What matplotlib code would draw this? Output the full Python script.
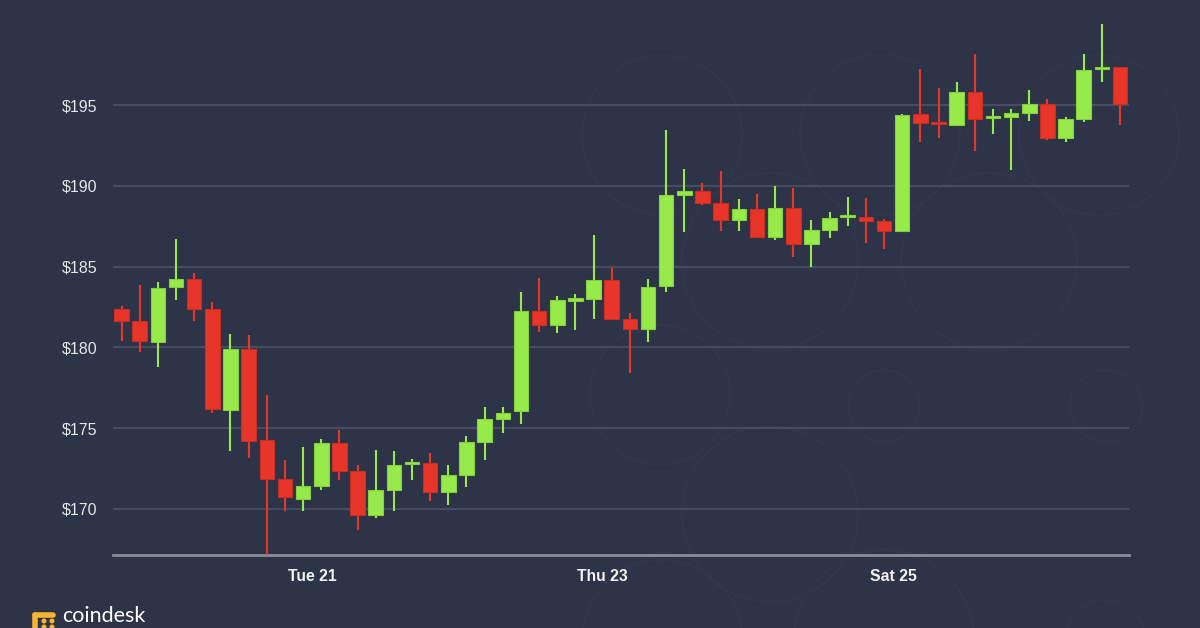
import matplotlib
matplotlib.use("Agg")
import matplotlib.pyplot as plt
from matplotlib.patches import Circle
import numpy as np

# ---------------- data (3-hour candles) ----------------
opens = [182.36, 181.63, 180.32, 183.72, 184.25, 182.36, 176.14, 179.90, 174.25, 171.86,
         170.62, 171.42, 174.10, 172.37, 169.63, 171.19, 172.76, 172.83, 171.07, 172.10,
         174.16, 175.57, 176.05, 182.25, 181.39, 182.90, 182.99, 184.15, 181.76, 181.14,
         183.80, 189.45, 189.68, 188.93, 187.86, 188.55, 186.81, 188.65, 186.38, 187.26,
         188.06, 188.07, 187.80, 187.18, 194.46, 193.86, 193.74, 195.79, 194.18, 194.26,
         194.52, 195.08, 192.94, 194.12, 197.22, 197.33]
highs = [182.54, 183.86, 184.07, 186.71, 184.60, 182.81, 180.81, 180.77, 177.07, 173.01,
         173.84, 174.33, 174.89, 172.70, 173.65, 173.57, 173.08, 173.48, 172.74, 174.50,
         176.31, 176.31, 183.43, 184.29, 183.18, 183.30, 186.94, 184.89, 182.11, 184.21,
         193.43, 191.06, 190.17, 190.90, 189.17, 189.49, 189.99, 189.85, 187.88, 188.38,
         189.29, 189.23, 187.93, 194.44, 197.21, 196.03, 196.42, 198.16, 194.73, 194.73,
         195.91, 195.39, 194.26, 198.14, 199.99, 197.35]
lows = [180.38, 179.73, 178.79, 182.95, 181.62, 175.96, 173.59, 173.17, 167.00, 169.88,
        169.86, 171.18, 171.78, 168.68, 169.42, 169.89, 171.81, 170.48, 170.23, 171.36,
        173.01, 174.72, 175.26, 180.97, 180.87, 181.10, 181.74, 181.70, 178.40, 180.35,
        183.41, 187.16, 188.79, 187.22, 187.22, 186.75, 186.63, 185.59, 184.99, 186.75,
        187.51, 186.46, 186.09, 187.12, 192.69, 192.95, 193.70, 192.13, 193.19, 190.98,
        193.99, 192.83, 192.69, 193.93, 196.44, 193.78]
closes = [181.65, 180.38, 183.69, 184.25, 182.38, 176.19, 179.90, 174.19, 171.88, 170.72,
          171.42, 174.10, 172.37, 169.63, 171.19, 172.72, 172.84, 171.07, 172.09, 174.15,
          175.55, 175.92, 182.25, 181.39, 182.93, 182.98, 184.15, 181.78, 181.14, 183.76,
          189.45, 189.68, 188.95, 187.86, 188.55, 186.81, 188.65, 186.38, 187.25, 188.03,
          188.12, 187.82, 187.18, 194.40, 193.87, 193.80, 195.79, 194.16, 194.24, 194.50,
          195.08, 192.94, 194.13, 197.19, 197.28, 195.08]
x_tick_pos = [10.5, 26.5, 42.5]
x_tick_labels = ["Tue 21", "Thu 23", "Sat 25"]
y_ticks = [170, 175, 180, 185, 190, 195]
y_tick_labels = ["$170", "$175", "$180", "$185", "$190", "$195"]

# ---------------- style ----------------
BG = "#2e3447"
GREEN = "#98e94a"
GREEN_EDGE = "#84cf3c"
RED = "#e8352a"
RED_EDGE = "#c92e24"
GRID = "#464c5f"

W, H = 1200, 628
fig = plt.figure(figsize=(W / 100, H / 100), dpi=100, facecolor=BG)

# faint watermark circles (background decoration)
wm = fig.add_axes([0, 0, 1, 1], zorder=0)
wm.set_xlim(0, W)
wm.set_ylim(H, 0)
wm.axis("off")
wm.set_facecolor(BG)
for (cx, cy, r) in [(662, 135, 80), (880, 135, 80), (1099, 135, 80),
                    (770, 261, 88), (989, 261, 88), (660, 395, 70),
                    (884, 406, 36), (1106, 406, 36), (770, 514, 88),
                    (884, 640, 90), (662, 640, 80), (1106, 640, 40)]:
    wm.add_patch(Circle((cx, cy), r, fill=False, ec="#32384b", lw=1.2))

left, right, top, bottom = 113, 1128.6, 0, 555
ax = fig.add_axes([left / W, (H - bottom) / H, (right - left) / W, (bottom - top) / H], zorder=1)
ax.set_facecolor("none")

n = len(opens)
xs = np.arange(n)
o = np.array(opens); c = np.array(closes); hi = np.array(highs); lo = np.array(lows)
up = c >= o
cols = np.where(up, GREEN, RED)
ecols = np.where(up, GREEN_EDGE, RED_EDGE)

ax.vlines(xs, lo, hi, colors=cols, linewidth=1.5, zorder=3)
heights = np.maximum(np.abs(c - o), 0.15)
bottoms = np.minimum(o, c)
ax.bar(xs, heights, bottom=bottoms, width=0.8, color=cols, edgecolor=ecols,
       linewidth=0.8, zorder=4)

ax.set_xlim(-0.47, 55.47)
ax.set_ylim(167.153, 201.498)

for y in y_ticks:
    ax.axhline(y, color=GRID, lw=1.6, zorder=1)

for s in ["top", "right", "left"]:
    ax.spines[s].set_visible(False)
ax.spines["bottom"].set_color("#8a8e9b")
ax.spines["bottom"].set_linewidth(2)

ax.set_yticks(y_ticks)
ax.set_yticklabels(y_tick_labels)
ax.set_xticks(x_tick_pos)
ax.set_xticklabels(x_tick_labels)
ax.tick_params(axis="both", length=0)
ax.tick_params(axis="y", pad=11, labelsize=11.5, labelcolor="#e4e5e9")
ax.tick_params(axis="x", pad=10, labelsize=11.3, labelcolor="#f2f2f4")
for lab in ax.get_yticklabels() + ax.get_xticklabels():
    lab.set_family(["Liberation Sans", "DejaVu Sans"])
for lab in ax.get_xticklabels():
    lab.set_fontweight("bold")

# coindesk logo (bottom-left)
logo = fig.add_axes([0, 0, 1, 1], zorder=2)
logo.set_xlim(0, W)
logo.set_ylim(H, 0)
logo.axis("off")
YEL = "#f4b532"
logo.plot([35, 53], [614.5, 614.5], color=YEL, lw=4, solid_capstyle="round")
logo.plot([35, 35], [614.5, 630], color=YEL, lw=4, solid_capstyle="round")
for (dx, dy) in [(44, 621), (52, 621), (44, 627), (52, 627)]:
    logo.add_patch(Circle((dx, dy), 1.8, color=YEL))
fig.text(62 / W, 2 / H, "coindesk", color="white", fontsize=15.5,
         family=["Lato", "DejaVu Sans"], va="bottom", ha="left")

fig.savefig("out.png", dpi=100, facecolor=BG)
